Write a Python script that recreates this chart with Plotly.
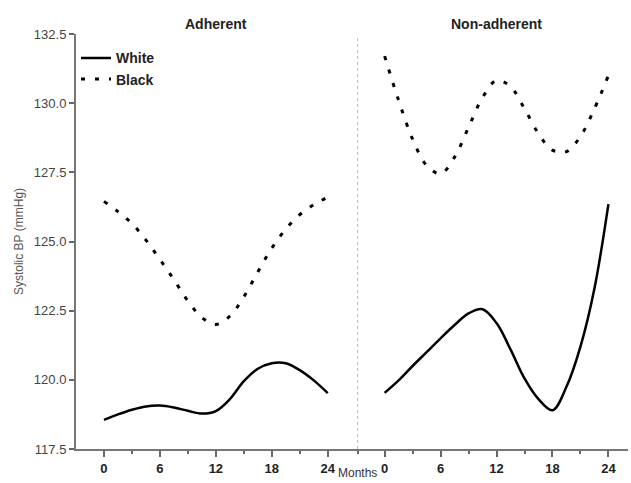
import plotly.graph_objects as go

# Months of follow-up (read at 1.5-month steps from the reference curves)
months = [0, 1.5, 3, 4.5, 6, 7.5, 9, 10.5, 12, 13.5, 15, 16.5, 18, 19.5, 21, 22.5, 24]

# Adherent panel
adh_white = [118.55, 118.75, 118.92, 119.04, 119.07, 119.00, 118.88, 118.78, 118.87,
             119.30, 119.95, 120.40, 120.60, 120.60, 120.35, 119.98, 119.52]
adh_black = [126.45, 126.08, 125.65, 125.05, 124.35, 123.62, 122.85, 122.25, 122.00,
             122.30, 123.00, 123.90, 124.76, 125.45, 125.97, 126.33, 126.60]

# Non-adherent panel
non_white = [119.53, 119.98, 120.50, 121.00, 121.50, 121.98, 122.40, 122.55, 122.05,
             121.10, 120.05, 119.30, 118.90, 119.75, 121.20, 123.30, 126.35]
non_black = [131.70, 130.10, 128.70, 127.75, 127.45, 128.05, 129.13, 130.20, 130.82,
             130.60, 129.80, 128.90, 128.30, 128.25, 128.80, 129.80, 131.00]

panel_titles = ["Adherent", "Non-adherent"]
month_ticks = [0, 6, 12, 18, 24]
minor_months = [3, 9, 15, 21]
y_ticks = [117.5, 120.0, 122.5, 125.0, 127.5, 130.0, 132.5]

OFFSET = 30.1  # position of the second panel on the shared month axis
DIVIDER = 27.2

x_left = months
x_right = [m + OFFSET for m in months]

line_w = dict(color="black", width=2.5)
line_b = dict(color="black", width=3, dash="4px,10px")

fig = go.Figure()
fig.add_trace(go.Scatter(x=x_left, y=adh_white, mode="lines", name="White",
                         line=dict(**line_w, shape="spline")))
fig.add_trace(go.Scatter(x=x_left, y=adh_black, mode="lines", name="Black",
                         line=dict(**line_b, shape="spline")))
fig.add_trace(go.Scatter(x=x_right, y=non_white, mode="lines", name="White",
                         line=dict(**line_w, shape="spline"), showlegend=False))
fig.add_trace(go.Scatter(x=x_right, y=non_black, mode="lines", name="Black",
                         line=dict(**line_b, shape="spline"), showlegend=False))

tickvals = month_ticks + [m + OFFSET for m in month_ticks]
ticktext = [str(m) for m in month_ticks] * 2
minor_vals = minor_months + [DIVIDER] + [m + OFFSET for m in minor_months]

fig.update_xaxes(
    range=[-3, 56.2], automargin=False,
    tickvals=tickvals, ticktext=ticktext,
    ticks="outside", ticklen=6, tickwidth=1.5, tickcolor="#666",
    showline=True, linecolor="#777", linewidth=2,
    showgrid=False, zeroline=False,
    tickfont=dict(family="Liberation Sans", size=13, color="#222", weight="bold"),
    minor=dict(tickvals=minor_vals, ticks="outside",
               ticklen=3, tickwidth=1.5, tickcolor="#666", showgrid=False),
)
fig.update_yaxes(
    range=[117.5, 132.5], automargin=False,
    tickvals=y_ticks, tickformat=".1f",
    ticks="outside", ticklen=5, tickwidth=1.5, tickcolor="#666",
    showline=True, linecolor="#777", linewidth=2,
    showgrid=False, zeroline=False,
    tickfont=dict(family="Liberation Sans", size=13, color="#444"),
    title=dict(text="Systolic BP (mmHg)", standoff=8,
               font=dict(family="Liberation Sans", size=12, color="#555")),
)

# Divider between panels
fig.add_shape(type="line", xref="x", yref="paper", x0=DIVIDER, x1=DIVIDER, y0=0, y1=0.99,
              line=dict(color="#bbb", width=1, dash="dot"))

for title, xc in zip(panel_titles, [12, 12 + OFFSET]):
    fig.add_annotation(text=title, x=xc, xref="x", y=1.024, yref="paper",
                       showarrow=False, yanchor="middle",
                       font=dict(family="Liberation Sans", size=14, color="#222", weight="bold"))

fig.add_annotation(text="Months", x=DIVIDER, xref="x", y=-0.0795, yref="paper",
                   showarrow=False, yanchor="bottom",
                   font=dict(family="Liberation Sans", size=12, color="#333"))

fig.update_layout(
    width=631, height=483,
    margin=dict(l=76, r=3, t=34, b=34),
    paper_bgcolor="white", plot_bgcolor="white",
    showlegend=True,
    legend=dict(x=0.0, y=0.98, xanchor="left", yanchor="top",
                bgcolor="rgba(0,0,0,0)", tracegroupgap=0,
                font=dict(family="Liberation Sans", size=14, color="#222", weight="bold")),
)

fig.write_html("out.html",
               config={"displayModeBar": False},
               post_script="document.body.style.margin='0';document.body.style.overflow='hidden';")
